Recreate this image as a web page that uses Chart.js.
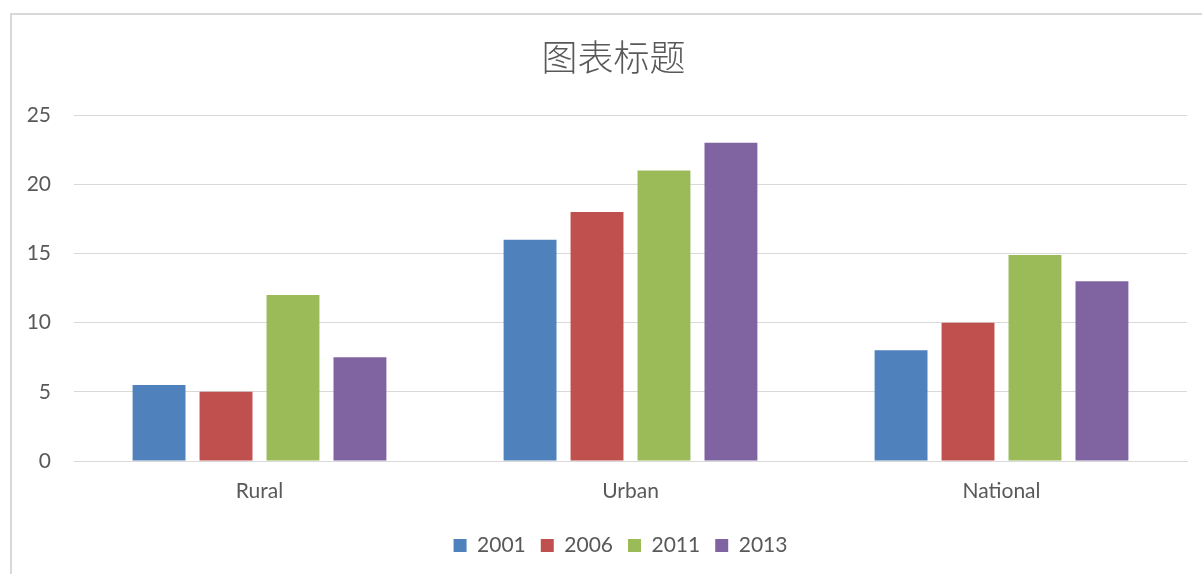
<!DOCTYPE html>
<html>
<head>
<meta charset="utf-8">
<script src="https://cdn.jsdelivr.net/npm/chart.js@4.4.0/dist/chart.umd.min.js"></script>
<style>
  html, body { margin: 0; padding: 0; background: #ffffff; overflow: hidden; }
  #frame { position: absolute; left: 10px; top: 13px; width: 1300px; height: 700px; border: 2px solid #d9d9d9; box-sizing: border-box; }
  #wrap { position: absolute; left: 0; top: 0; width: 1202px; height: 574px; }
</style>
</head>
<body>
<div id="frame"></div>
<div id="wrap"><canvas id="c" width="1202" height="574"></canvas></div>
<script>
const categories = ["Rural", "Urban", "National"];
const seriesNames = ["2001", "2006", "2011", "2013"];
const s2001 = [5.5, 16, 8];
const s2006 = [5, 18, 10];
const s2011 = [12, 21, 14.9];
const s2013 = [7.5, 23, 13];
const yTicks = [0, 5, 10, 15, 20, 25];
const colors = ["#4F81BD", "#C0504D", "#9BBB59", "#8064A2"];
const titleText = "图表标题";

const seriesValues = [s2001, s2006, s2011, s2013];
const FONT = "Lato, 'Open Sans', 'Liberation Sans', sans-serif";
const TXT = "#595959";

// Shift title & legend to be centered on the (wider) chart frame, like the original
const shiftPlugin = {
  id: "shiftBlocks",
  afterLayout(chart) {
    if (chart.titleBlock) { chart.titleBlock.left += 15; chart.titleBlock.right += 15; }
    if (chart.legend) { chart.legend.left += 22; chart.legend.right += 22; }
  }
};

new Chart(document.getElementById("c"), {
  type: "bar",
  data: {
    labels: categories,
    datasets: seriesNames.map((n, i) => ({
      label: n,
      data: seriesValues[i],
      backgroundColor: colors[i],
      borderWidth: 0,
      categoryPercentage: 0.722,
      barPercentage: 0.79
    }))
  },
  plugins: [shiftPlugin],
  options: {
    responsive: false,
    animation: false,
    layout: { padding: { left: 10, right: 15, top: 14, bottom: 8 } },
    plugins: {
      title: {
        display: true,
        text: titleText,
        color: TXT,
        font: { family: "'Noto Sans CJK SC', sans-serif", size: 36, weight: 300 },
        padding: { top: 22, bottom: 36 }
      },
      legend: {
        position: "bottom",
        labels: {
          color: TXT,
          font: { family: FONT, size: 21 },
          boxWidth: 13,
          boxHeight: 13,
          padding: 15
        }
      },
      tooltip: { enabled: false }
    },
    scales: {
      x: {
        afterFit: (s) => { s.height = 59; },
        grid: { display: false, drawTicks: false },
        border: { display: true, color: "#d9d9d9", width: 1 },
        ticks: { color: TXT, font: { family: FONT, size: 21 }, padding: 18 }
      },
      y: {
        min: 0,
        max: 25,
        afterBuildTicks: (s) => { s.ticks = yTicks.map(v => ({ value: v })); },
        afterFit: (s) => { s.width = 64; },
        grid: { color: "#d9d9d9", lineWidth: 1, drawTicks: false },
        border: { display: false },
        ticks: { color: TXT, font: { family: FONT, size: 21 }, padding: 23 }
      }
    }
  }
});
</script>
</body>
</html>
